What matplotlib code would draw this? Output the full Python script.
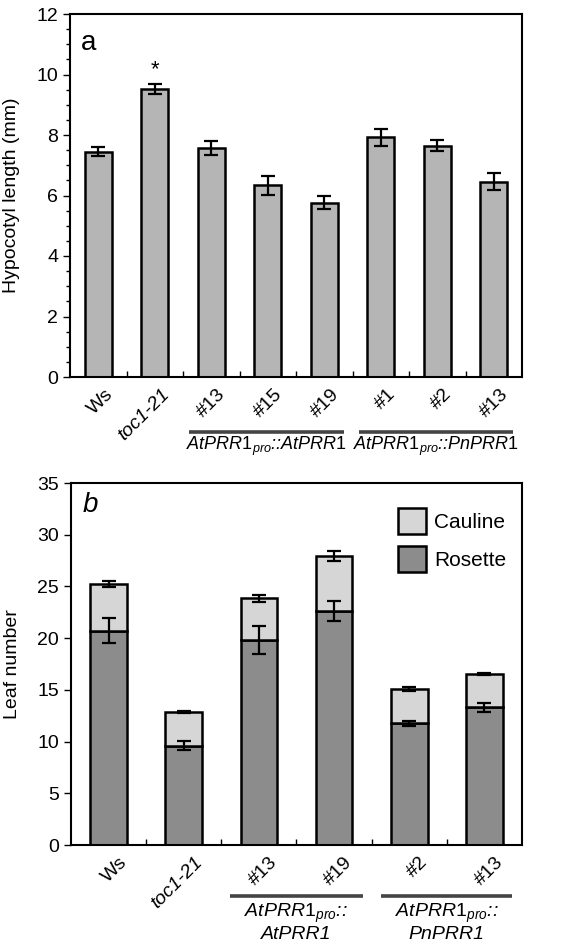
import matplotlib
matplotlib.use("Agg")
import matplotlib.pyplot as plt
import matplotlib.transforms as mtransforms
from matplotlib.patches import Patch
import numpy as np

plt.rcParams['font.family'] = ['Liberation Sans', 'DejaVu Sans']
plt.rcParams['mathtext.fontset'] = 'custom'
plt.rcParams['mathtext.it'] = 'Liberation Sans:italic'
plt.rcParams['mathtext.rm'] = 'Liberation Sans'

# ---- Panel a data ----
a_labels = ["Ws", "toc1-21", "#13", "#15", "#19", "#1", "#2", "#13"]
a_values = [7.45, 9.52, 7.57, 6.34, 5.76, 7.92, 7.65, 6.46]
a_errors = [0.15, 0.18, 0.24, 0.31, 0.22, 0.29, 0.18, 0.28]

# ---- Panel b data ----
b_labels = ["Ws", "toc1-21", "#13", "#19", "#2", "#13"]
b_rosette = [20.7, 9.6, 19.8, 22.6, 11.75, 13.3]
b_rosette_err = [1.2, 0.45, 1.35, 0.97, 0.2, 0.45]
b_total = [25.2, 12.9, 23.85, 27.95, 15.05, 16.5]
b_total_err = [0.3, 0.1, 0.35, 0.45, 0.2, 0.1]
b_cauline = [t - r for t, r in zip(b_total, b_rosette)]

W, H = 582, 944
fig = plt.figure(figsize=(W / 100, H / 100), dpi=100)

def rect(l, t, r, b):
    return [l / W, 1 - b / H, (r - l) / W, (b - t) / H]

axA = fig.add_axes(rect(70, 14, 522, 377))
axB = fig.add_axes(rect(71, 483, 522, 845))

FS = 14
GFS = 13
err_kw = dict(ecolor='black', elinewidth=1.6, capsize=5, capthick=1.6)

# Panel a
xa = np.arange(len(a_values))
axA.bar(xa, a_values, width=0.48, color='#b5b5b5', edgecolor='black', linewidth=1.8,
        yerr=a_errors, error_kw=err_kw, zorder=2)
axA.set_xlim(-0.5, len(a_values) - 0.5)
axA.set_ylim(0, 12)
axA.set_yticks(np.arange(0, 13, 2))
axA.set_yticks(np.arange(0, 12.01, 0.5), minor=True)
axA.set_ylabel("Hypocotyl length (mm)", fontsize=FS)
axA.yaxis.set_label_coords(-0.11, 0.5)
axA.text(1, 9.8, "*", ha='center', va='bottom', fontsize=16)
axA.text(0.025, 0.955, "a", transform=axA.transAxes, fontsize=20, va='top', ha='left')

# Panel b
xb = np.arange(len(b_rosette))
axB.bar(xb, b_rosette, width=0.49, color='#8c8c8c', edgecolor='black', linewidth=1.8, zorder=2)
axB.bar(xb, b_cauline, bottom=b_rosette, width=0.49, color='#d6d6d6', edgecolor='black',
        linewidth=1.8, zorder=2)
axB.errorbar(xb, b_rosette, yerr=b_rosette_err, fmt='none', zorder=3, **err_kw)
axB.errorbar(xb, b_total, yerr=b_total_err, fmt='none', zorder=3, **err_kw)
axB.set_xlim(-0.5, len(b_rosette) - 0.5)
axB.set_ylim(0, 35)
axB.set_yticks(np.arange(0, 36, 5))
axB.set_ylabel("Leaf number", fontsize=FS)
axB.yaxis.set_label_coords(-0.11, 0.5)
axB.text(0.025, 0.975, "b", transform=axB.transAxes, fontsize=20, va='top', ha='left',
         style='italic')

handles = [Patch(facecolor='#d6d6d6', edgecolor='black', linewidth=1.8, label='Cauline'),
           Patch(facecolor='#8c8c8c', edgecolor='black', linewidth=1.8, label='Rosette')]
axB.legend(handles=handles, loc='upper left', bbox_to_anchor=(0.725, 0.93), frameon=False,
           fontsize=15, handlelength=1.35, handleheight=1.5, labelspacing=0.6,
           handletextpad=0.4, borderpad=0, borderaxespad=0)

for ax, labels, n, dx in [(axA, a_labels, len(a_values), 6), (axB, b_labels, len(b_rosette), 10)]:
    for s in ax.spines.values():
        s.set_linewidth(1.5)
    ax.set_xticks(np.arange(n))
    ax.set_xticklabels(labels, rotation=45, ha='right', rotation_mode='anchor', fontsize=FS)
    ax.tick_params(axis='x', length=0, pad=6)
    ax.set_xticks(np.arange(n - 1) + 0.5, minor=True)
    ax.tick_params(axis='x', which='minor', direction='in', length=4, width=1)
    ax.tick_params(axis='y', which='major', direction='out', length=5, width=1, labelsize=FS)
    ax.tick_params(axis='y', which='minor', direction='out', length=3, width=1)
    off = mtransforms.ScaledTranslation(dx / 100, 0, fig.dpi_scale_trans)
    for lab in ax.get_xticklabels():
        lab.set_transform(lab.get_transform() + off)
        if lab.get_text().startswith("toc"):
            lab.set_style('italic')

pix_a = lambda y: (377 - y) / 363.0
pix_b = lambda y: (845 - y) / 362.0

# Group lines & labels
transA = mtransforms.blended_transform_factory(axA.transData, axA.transAxes)
for x0, x1, txt in [(1.61, 4.35, r"$\mathit{AtPRR1}_{\mathit{pro}}$::$\mathit{AtPRR1}$"),
                    (4.62, 7.34, r"$\mathit{AtPRR1}_{\mathit{pro}}$::$\mathit{PnPRR1}$")]:
    axA.plot([x0, x1], [pix_a(432), pix_a(432)], transform=transA, color='#444444', lw=2.6,
             clip_on=False, solid_capstyle='butt')
    axA.text((x0 + x1) / 2, pix_a(450), txt, transform=transA, ha='center', va='baseline',
             fontsize=GFS, style='italic')

transB = mtransforms.blended_transform_factory(axB.transData, axB.transAxes)
for x0, x1, t1, t2 in [(1.615, 3.38, r"$\mathit{AtPRR1}_{\mathit{pro}}$::", "AtPRR1"),
                       (3.62, 5.37, r"$\mathit{AtPRR1}_{\mathit{pro}}$::", "PnPRR1")]:
    axB.plot([x0, x1], [pix_b(895.5), pix_b(895.5)], transform=transB, color='#444444', lw=2.6,
             clip_on=False, solid_capstyle='butt')
    xc = (x0 + x1) / 2
    axB.text(xc, pix_b(917), t1, transform=transB, ha='center', va='baseline', fontsize=14,
             style='italic')
    axB.text(xc, pix_b(939), t2, transform=transB, ha='center', va='baseline', fontsize=14,
             style='italic')

fig.savefig("out.png", dpi=100)
